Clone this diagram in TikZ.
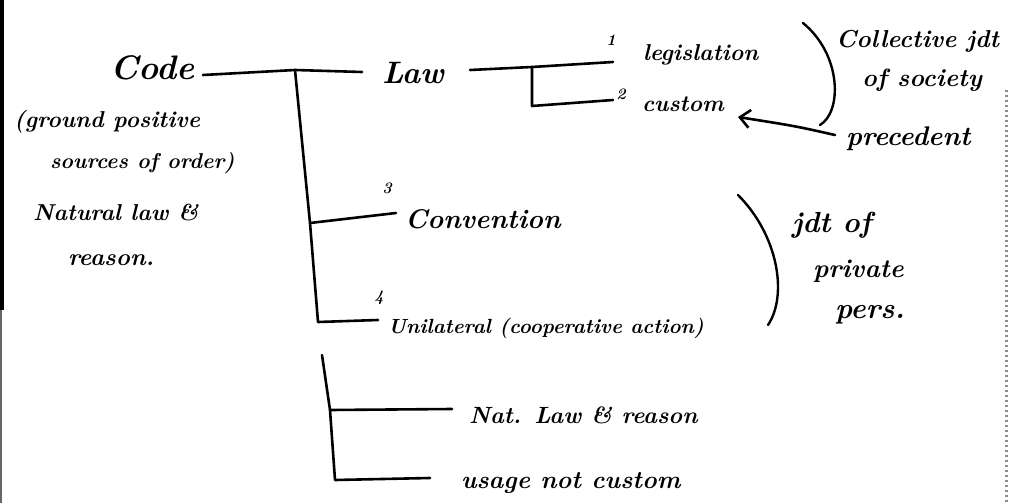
\documentclass[tikz,border=0pt]{standalone}
\usetikzlibrary{arrows.meta}
\newcommand{\hsz}[1]{\fontsize{#1}{#1}\selectfont\bfseries\itshape}
\begin{document}
\begin{tikzpicture}[x=1pt,y=-1pt,
  hw/.style={inner sep=0pt, outer sep=0pt, anchor=base west},
  num/.style={inner sep=0pt, outer sep=0pt, font=\hsz{16}},
  ink/.style={line width=2.6pt, line cap=round, line join=round},
  brace/.style={line width=2.4pt, line cap=round},
]
\useasboundingbox (0,0) rectangle (1012,503);
% scan edges
\fill[black] (0,0) rectangle (4,310);
\fill[black!60] (0,310) rectangle (2,503);
\draw[black!45, line width=3pt, dash pattern=on 2pt off 3pt] (1006,90) -- (1006,503);

% left texts
\node[hw, font=\hsz{34}] (code) at (110,80) {Code};
\node[hw, font=\hsz{23}] (gp) at (14,127) {(ground positive};
\node[hw, font=\hsz{21.5}] (so) at (50,168) {sources of order)};
\node[hw, font=\hsz{23}] (nl) at (33,220) {Natural law \&};
\node[hw, font=\hsz{24}] (rs) at (68,265) {reason.};

% law branch
\node[hw, font=\hsz{31}] (law) at (382,83) {Law};
\node[num] (n1) at (611,40) {1};
\node[hw, font=\hsz{23}] (leg) at (643,60) {legislation};
\node[num] (n2) at (621,94) {2};
\node[hw, font=\hsz{23}] (cus) at (642,111) {custom};

\node[hw, font=\hsz{24.5}] (col) at (836,48) {Collective jdt};
\node[hw, font=\hsz{25}] (soc) at (862,86) {of society};
\node[hw, font=\hsz{27}] (prec) at (846,145) {precedent};

% convention / unilateral
\node[num] (n3) at (387,188) {3};
\node[hw, font=\hsz{27}] (conv) at (405,228) {Convention};
\node[num] (n4) at (379,298) {4};
\node[hw, font=\hsz{20.5}] (uni) at (388,333) {Unilateral (cooperative action)};

\node[hw, font=\hsz{29}] (jo) at (792,232) {jdt of};
\node[hw, font=\hsz{26}] (pri) at (813,277) {private};
\node[hw, font=\hsz{29}] (per) at (835,318) {pers.};

% lower group
\node[hw, font=\hsz{23.5}] (nat) at (469,423) {Nat. Law \& reason};
\node[hw, font=\hsz{25}] (usa) at (461,488) {usage not custom};

% connector coordinates
\coordinate (c0) at (203,75);
\coordinate (j0) at (295,70);
\coordinate (c1) at (362,72);
\coordinate (jc) at (310,223);
\coordinate (cv) at (396,213);
\coordinate (ju) at (318,322);
\coordinate (uv) at (378,320);
\coordinate (l0) at (470,70);
\coordinate (jl) at (532,67);
\coordinate (l1) at (613,62);
\coordinate (jl2) at (532,106);
\coordinate (l2) at (613,100);
\coordinate (k0) at (322,355);
\coordinate (kn) at (330,410);
\coordinate (nv) at (452,409);
\coordinate (ku) at (335,480);
\coordinate (uu) at (430,478);
\coordinate (a1) at (835,135);
\coordinate (a2) at (738,117);

% tree lines
\draw[ink] (c0) -- (j0) -- (c1);
\draw[ink] (j0) -- (jc) -- (ju) -- (uv);
\draw[ink] (jc) -- (cv);
\draw[ink] (l0) -- (jl) -- (l1);
\draw[ink] (jl) -- (jl2) -- (l2);
\draw[ink] (k0) -- (kn) -- (ku) -- (uu);
\draw[ink] (kn) -- (nv);

% braces
\draw[brace] (803,23) .. controls (842,55) and (842,112) .. (820,125);
\draw[brace] (738,195) .. controls (778,235) and (788,295) .. (768,325);

% arrow precedent -> custom
\draw[ink, -{Straight Barb[length=10pt,width=18pt]}] (a1) .. controls (795,126) .. (a2);
\end{tikzpicture}
\end{document}
